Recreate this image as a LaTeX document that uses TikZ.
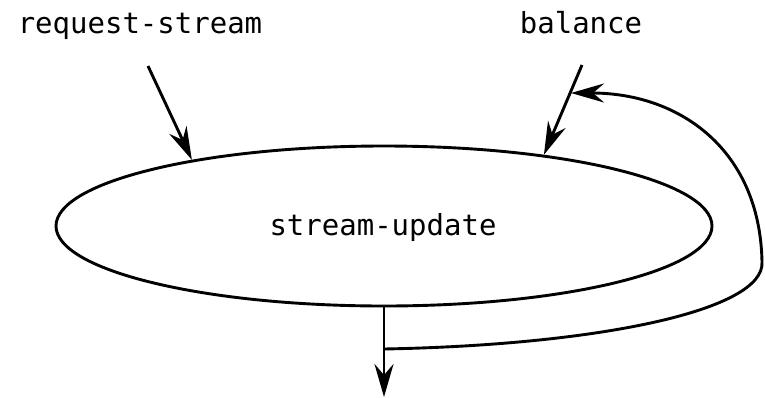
\documentclass[tikz,border=0pt]{standalone}
\usepackage{fontspec}
\setmonofont{DejaVu Sans Mono}
\usetikzlibrary{arrows.meta,shapes.geometric}
\tikzset{flow/.style={-{Stealth[length=33pt,width=19pt,inset=11pt]}}}
\tikzset{lbl/.style={font=\ttfamily\fontsize{29}{30}\selectfont, anchor=base, inner sep=0}}

\begin{document}
\begin{tikzpicture}[x=1pt, y=-1pt, line width=2.9pt]
    \useasboundingbox (0,0) rectangle (765,397);

    \node [draw, ellipse, minimum width=656pt, minimum height=160pt, inner sep=0] (upd) at (384,226) {};
    \node [lbl] (updtxt) at (383,235) {stream-update};

    \node [lbl] (req) at (140,33) {request-stream};
    \node [lbl] (bal) at (581,33) {balance};

    \coordinate (reqstart) at (148,66);
    \coordinate (balstart) at (582,65);
    \coordinate (balhit) at (571,93);
    \coordinate (out) at (384,397);
    \coordinate (fork) at (384,349);
    
    \draw [flow] (reqstart) -- (upd.161);
    \draw [flow] (balstart) -- (upd.24);
    \draw [flow] (upd.south) -- (out);
    
    % feedback from the output back into balance
    \draw [flow] (fork) .. controls (600,345) and (765,310) .. (762,262)
        .. controls (760,150) and (680,93) .. (balhit);
    
\end{tikzpicture}
\end{document}
